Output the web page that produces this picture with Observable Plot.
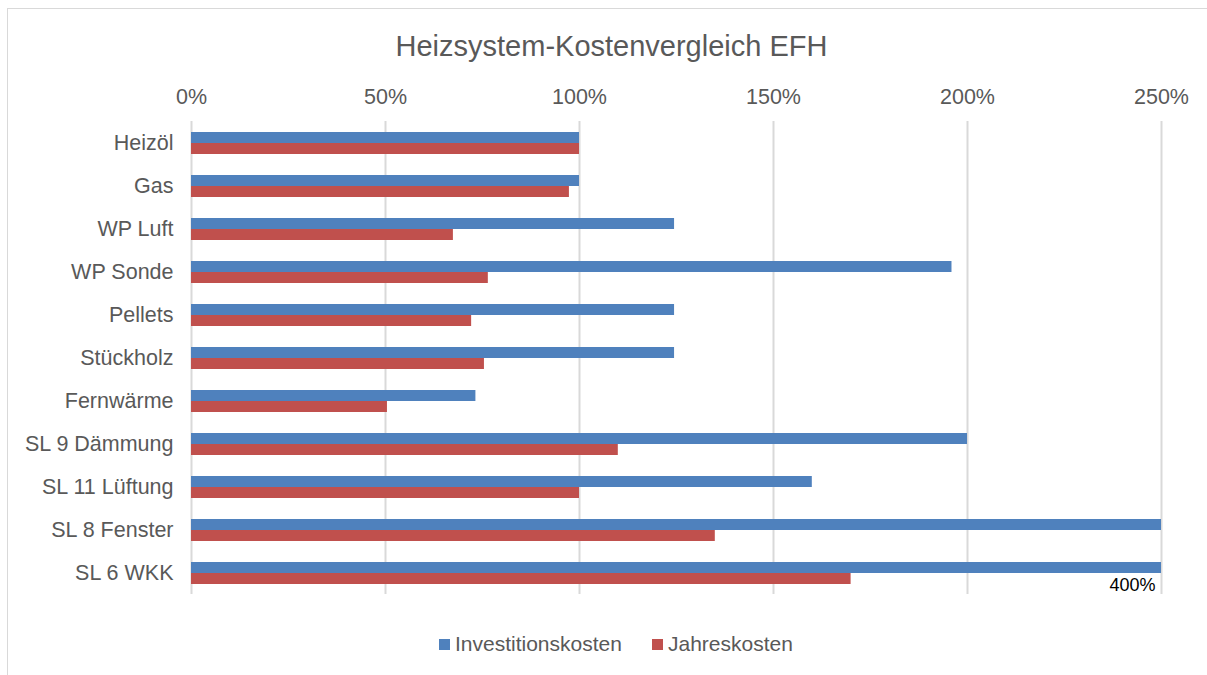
<!DOCTYPE html>
<html>
<head>
<meta charset="utf-8">
<script src="https://cdn.jsdelivr.net/npm/d3@7"></script>
<script src="https://cdn.jsdelivr.net/npm/@observablehq/plot@0.6"></script>
<style>
  html, body { margin: 0; padding: 0; background: #fff; }
  body { width: 1207px; height: 675px; position: relative; overflow: hidden;
         font-family: "Liberation Sans", Arial, Helvetica, sans-serif; }
  #frame { position: absolute; left: 7px; top: 8px; width: 1210px; height: 680px;
           border: 1px solid #d9d9d9; box-sizing: border-box; }
  #title { position: absolute; left: 8px; width: 1207px; top: 32px; text-align: center;
           font-size: 29px; line-height: 29px; color: #595959; }
  #chart { position: absolute; left: 0; top: 0; }
  .lg-sw { position: absolute; width: 11px; height: 11px; top: 639px; }
  .lg-tx { position: absolute; top: 633px; font-size: 21px; line-height: 21px; color: #595959; white-space: nowrap; }
</style>
</head>
<body>
<div id="frame"></div>
<div id="chart"></div>
<div id="title">Heizsystem-Kostenvergleich EFH</div>
<div class="lg-sw" style="left:439px;background:#4F81BD"></div>
<div class="lg-tx" style="left:455px">Investitionskosten</div>
<div class="lg-sw" style="left:652px;background:#C0504D"></div>
<div class="lg-tx" style="left:668px">Jahreskosten</div>
<script>
const categories = ["Heizöl", "Gas", "WP Luft", "WP Sonde", "Pellets", "Stückholz", "Fernwärme",
  "SL 9 Dämmung", "SL 11 Lüftung", "SL 8 Fenster", "SL 6 WKK"];
const investitionskosten = [100, 100, 124.5, 196, 124.5, 124.5, 73.3, 200, 160, 300, 400];
const jahreskosten = [100, 97.4, 67.5, 76.5, 72.2, 75.5, 50.5, 110, 100, 135, 170];
const xTicks = [0, 50, 100, 150, 200, 250];
const labelled = ["SL 6 WKK"];

const inv = categories.map((c, i) => ({cat: c, value: investitionskosten[i]}));
const jah = categories.map((c, i) => ({cat: c, value: jahreskosten[i]}));
const labels = inv.filter(d => labelled.includes(d.cat));

const chart = Plot.plot({
  width: 1207,
  height: 620,
  marginLeft: 191,
  marginRight: 46,
  marginTop: 121,
  marginBottom: 26,
  style: {fontFamily: "'Liberation Sans', Arial, Helvetica, sans-serif", fontSize: "21.5px", color: "#595959", background: "transparent"},
  x: {domain: [0, 250], axis: "top", ticks: xTicks, tickFormat: d => d + "%", tickSize: 0, tickPadding: 18, label: null},
  y: {domain: categories, paddingInner: 0.4884, paddingOuter: 0.2442, tickSize: 0, tickPadding: 18, label: null},
  marks: [
    Plot.gridX(xTicks, {stroke: "#d9d9d9", strokeOpacity: 1, strokeWidth: 2}),
    Plot.barX(inv, {x: "value", y: "cat", fill: "#4F81BD", insetBottom: 11, clip: true}),
    Plot.barX(jah, {x: "value", y: "cat", fill: "#C0504D", insetTop: 11, clip: true}),
    Plot.text(labels, {x: d => Math.min(d.value, 250), y: "cat", text: d => d.value + "%",
      textAnchor: "end", dx: -6, dy: 12, fill: "#000", fontSize: 18})
  ]
});
document.getElementById("chart").appendChild(chart);
</script>
</body>
</html>
